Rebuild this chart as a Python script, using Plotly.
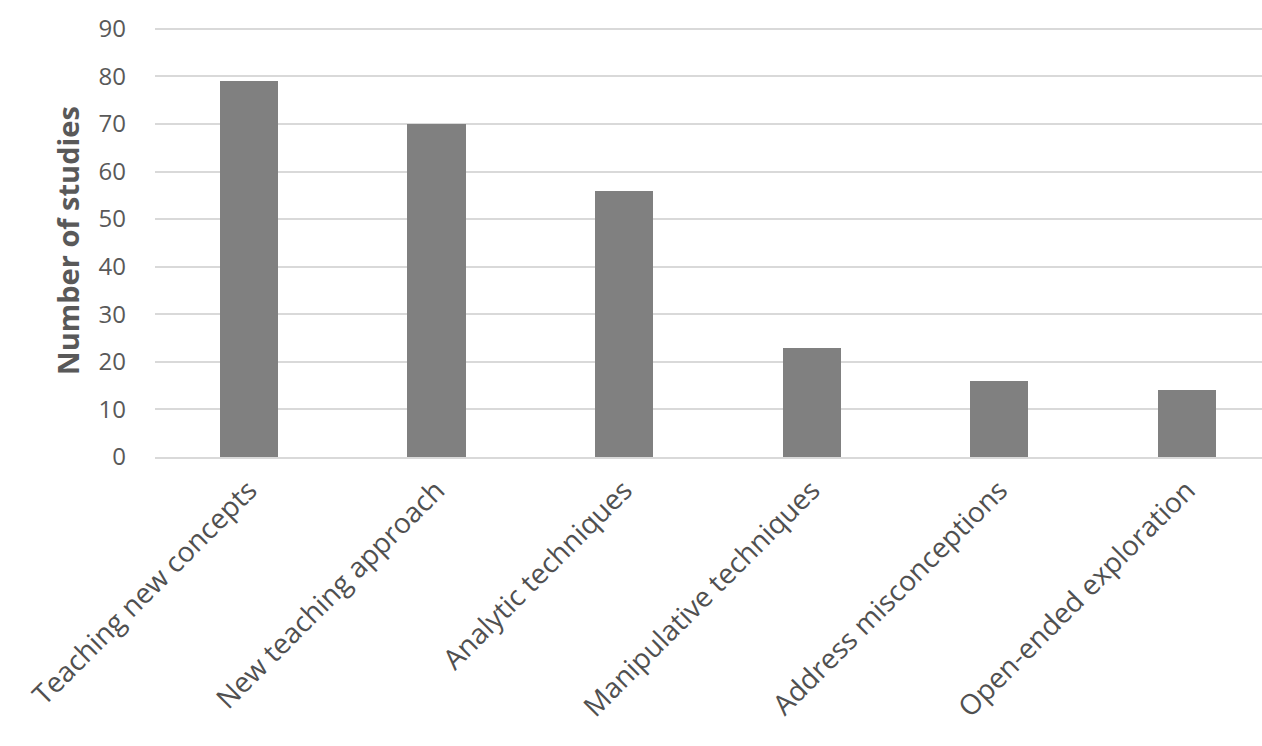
import plotly.graph_objects as go

categories = ["Teaching new concepts", "New teaching approach", "Analytic techniques",
              "Manipulative techniques", "Address misconceptions", "Open-ended exploration"]
values = [79, 70, 56, 23, 16, 14]
y_ticks = [0, 10, 20, 30, 40, 50, 60, 70, 80, 90]

fig = go.Figure(go.Bar(x=categories, y=values, marker=dict(color="#808080", line=dict(width=0)),
                       width=0.31))

fig.update_layout(
    width=1262, height=746,
    margin=dict(l=155, r=0, t=24, b=289),
    plot_bgcolor="white", paper_bgcolor="white",
    font=dict(family="Open Sans, sans-serif", color="#595959"),
    showlegend=False,
    bargap=0,
)
fig.update_yaxes(range=[0, 91], tickvals=y_ticks, showgrid=True, gridcolor="#d9d9d9", gridwidth=1.5,
                 zeroline=False, showline=False, ticks="", tickfont=dict(size=24, color="#595959"),
                 ticklabelstandoff=28,
                 title=dict(text="<b>Number of studies</b>", font=dict(size=29, color="#595959"), standoff=10))
fig.update_xaxes(range=[-0.5, 5.4], tickangle=-45, tickfont=dict(size=28, color="#505050"),
                 showline=True, linecolor="#d9d9d9", linewidth=1.5, ticks="", showgrid=False,
                 ticklabelstandoff=4)

fig.write_html("out.html")
